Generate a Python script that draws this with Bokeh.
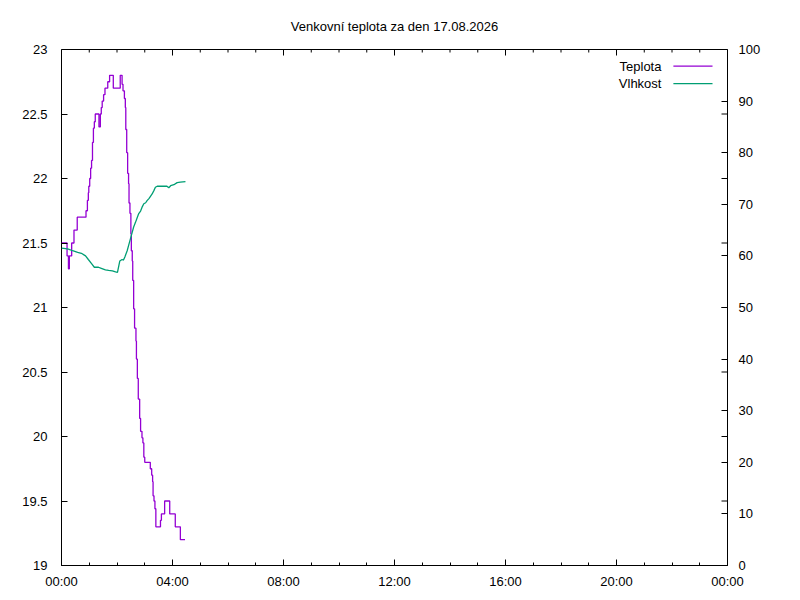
from bokeh.plotting import figure
from bokeh.models import LinearAxis, Range1d, FixedTicker, Label
from bokeh.embed import file_html
from bokeh.resources import INLINE

# ---- data ----
temp_times = ["00:00", "00:12", "00:15", "00:17", "00:22", "00:27", "00:34", "00:53", "00:56",
              "00:58", "00:59", "01:01", "01:03", "01:05", "01:07", "01:09", "01:11", "01:13",
              "01:21", "01:24", "01:26", "01:28", "01:31", "01:34", "01:40", "01:44", "01:52",
              "02:07", "02:11", "02:13", "02:16", "02:18", "02:19", "02:21", "02:23", "02:25",
              "02:26", "02:28", "02:30", "02:31", "02:33", "02:34", "02:36", "02:38", "02:41",
              "02:42", "02:44", "02:46", "02:49", "02:51", "02:54", "02:56", "02:58", "03:00",
              "03:12", "03:15", "03:17", "03:18", "03:20", "03:22", "03:24", "03:34", "03:36",
              "03:43", "03:54", "04:06", "04:17", "04:27"]
temp_values = [21.5, 21.4, 21.3, 21.4, 21.5, 21.6, 21.7, 21.75, 21.83,
               21.89, 21.94, 22.0, 22.08, 22.14, 22.28, 22.39, 22.44, 22.5,
               22.4, 22.5, 22.55, 22.6, 22.65, 22.7, 22.75, 22.8, 22.7,
               22.8, 22.73, 22.68, 22.62, 22.55, 22.38, 22.2, 22.04, 21.96,
               21.81, 21.73, 21.57, 21.44, 21.36, 21.21, 20.99, 20.84, 20.74,
               20.6, 20.45, 20.29, 20.14, 20.04, 19.99, 19.95, 19.84, 19.8,
               19.75, 19.7, 19.65, 19.54, 19.5, 19.44, 19.3, 19.35, 19.4,
               19.5, 19.4, 19.3, 19.2, 19.2]

hum_times = ["00:00", "00:09", "00:15", "00:24", "00:35", "00:43", "00:52", "00:58", "01:05",
             "01:11", "01:20", "01:26", "01:35", "01:42", "01:50", "01:57", "02:01", "02:04",
             "02:06", "02:11", "02:14", "02:17", "02:22", "02:25", "02:29", "02:33", "02:36",
             "02:40", "02:44", "02:47", "02:51", "02:54", "02:58", "03:02", "03:05", "03:09",
             "03:12", "03:16", "03:20", "03:23", "03:27", "03:48", "03:52", "03:56", "04:03",
             "04:10", "04:17", "04:28"]
hum_values = [61.5, 61.4, 61.3, 61.0, 60.7, 60.5, 60.0, 59.3, 58.5,
              57.8, 57.8, 57.6, 57.3, 57.2, 57.1, 56.9, 56.8, 58.1,
              59.0, 59.3, 59.2, 59.8, 61.0, 62.0, 63.3, 64.6, 65.6,
              66.5, 67.5, 68.2, 68.7, 69.4, 70.1, 70.3, 70.7, 71.1,
              71.5, 72.0, 72.7, 73.3, 73.5, 73.5, 73.2, 73.6, 73.8,
              74.2, 74.3, 74.4]

x_ticks = [0, 4, 8, 12, 16, 20, 24]
x_minor_ticks = list(range(25))
x_tick_labels = ["00:00", "04:00", "08:00", "12:00", "16:00", "20:00", "00:00"]
y_ticks = [19, 19.5, 20, 20.5, 21, 21.5, 22, 22.5, 23]
y_tick_labels = ["19", "19.5", "20", "20.5", "21", "21.5", "22", "22.5", "23"]
y2_ticks = [0, 10, 20, 30, 40, 50, 60, 70, 80, 90, 100]
y2_tick_labels = ["0", "10", "20", "30", "40", "50", "60", "70", "80", "90", "100"]

title_text = "Venkovní teplota za den 17.08.2026"
series_names = ["Teplota", "Vlhkost"]
colors = ["#9400d3", "#009e73"]


def to_hours(t):
    h, m = t.split(":")
    return int(h) + int(m) / 60.0


tx = [to_hours(t) for t in temp_times]
hx = [to_hours(t) for t in hum_times]

FONT = "Liberation Sans"
FS = "13px"
FW, FH = 666, 516
X0, X1, Y0, Y1 = 0, 24, 19, 23
px_x = (X1 - X0) / FW
px_y = (Y1 - Y0) / FH

p = figure(frame_width=FW, frame_height=FH,
           min_border_left=61, min_border_right=50, min_border_top=49, min_border_bottom=30,
           x_range=Range1d(X0, X1), y_range=Range1d(Y0, Y1),
           output_backend="svg", toolbar_location=None,
           background_fill_color="white", border_fill_color="white")
p.extra_y_ranges = {"hum": Range1d(0, 100)}

p.title.text = title_text
p.title.align = "center"
p.title.text_font = FONT
p.title.text_font_size = FS
p.title.text_font_style = "normal"
p.title.text_color = "#000000"
p.title.standoff = 32

p.xgrid.visible = False
p.ygrid.visible = False
p.outline_line_color = "black"
p.outline_line_width = 1
p.outline_line_alpha = 1


def style_axis(ax):
    ax.axis_line_color = None
    ax.major_tick_in = 6
    ax.major_tick_out = 0
    ax.minor_tick_in = 3
    ax.minor_tick_out = 0
    ax.major_tick_line_color = "black"
    ax.minor_tick_line_color = "black"
    ax.major_label_text_font = FONT
    ax.major_label_text_font_size = FS
    ax.major_label_text_color = "black"


# bottom x axis
xa = p.xaxis[0]
xa.ticker = FixedTicker(ticks=x_ticks, minor_ticks=x_minor_ticks)
xa.major_label_overrides = {t: l for t, l in zip(x_ticks, x_tick_labels)}
style_axis(xa)
xa.major_label_standoff = 8

# left y axis
ya = p.yaxis[0]
ya.ticker = FixedTicker(ticks=y_ticks, minor_ticks=[])
ya.major_label_overrides = {t: l for t, l in zip(y_ticks, y_tick_labels)}
style_axis(ya)
ya.major_label_standoff = 14

# y2 axis
y2 = LinearAxis(y_range_name="hum", ticker=FixedTicker(ticks=y2_ticks, minor_ticks=[]))
y2.major_label_overrides = {t: l for t, l in zip(y2_ticks, y2_tick_labels)}
style_axis(y2)
y2.major_label_standoff = 11
p.add_layout(y2, "right")

# mirrored tick marks (gnuplot style): x ticks on the top border, y ticks on the right border
top_major = [t for t in x_ticks if 0 < t < 24]
top_minor = [t for t in x_minor_ticks if t not in x_ticks]
p.segment(x0=top_major, x1=top_major, y0=[Y1] * len(top_major),
          y1=[Y1 - 6 * px_y] * len(top_major), line_color="black", line_width=1)
p.segment(x0=top_minor, x1=top_minor, y0=[Y1] * len(top_minor),
          y1=[Y1 - 3 * px_y] * len(top_minor), line_color="black", line_width=1)
right_y = [t for t in y_ticks if Y0 < t < Y1]
p.segment(x0=[X1] * len(right_y), x1=[X1 - 6 * px_x] * len(right_y), y0=right_y, y1=right_y,
          line_color="black", line_width=1)

# data
p.step(tx, temp_values, mode="after", line_color=colors[0], line_width=1.3)
p.line(hx, hum_values, y_range_name="hum", line_color=colors[1], line_width=1.3)

# legend in gnuplot style (text then sample line), placed in the top right corner
leg_text_x = 21.62
leg_line_x0, leg_line_x1 = 22.05, 23.46
leg_rows_y = [22.871, 22.735]
for name, col, yy in zip(series_names, colors, leg_rows_y):
    p.add_layout(Label(x=leg_text_x, y=yy, text=name, text_align="right",
                       text_baseline="middle", text_font=FONT, text_font_size=FS,
                       text_color="black"))
    p.segment(x0=[leg_line_x0], x1=[leg_line_x1], y0=[yy], y1=[yy],
              line_color=col, line_width=1.3)

open("out.html", "w").write(file_html(p, INLINE))
